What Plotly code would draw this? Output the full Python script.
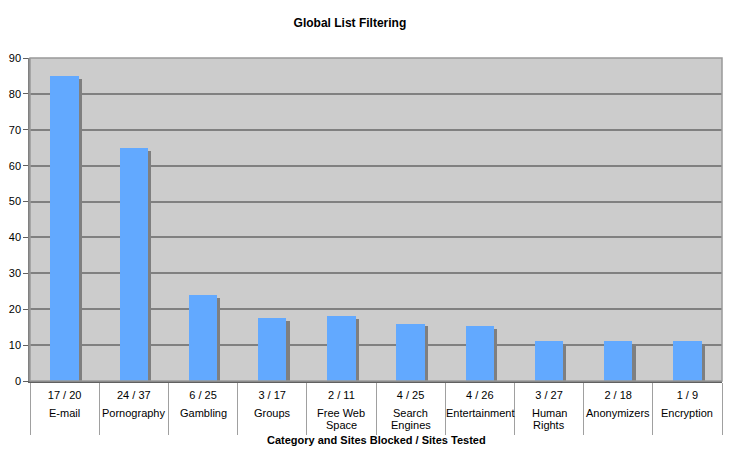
import plotly.graph_objects as go

names = ["E-mail", "Pornography", "Gambling", "Groups", "Free Web<br>Space",
         "Search<br>Engines", "Entertainment", "Human<br>Rights", "Anonymizers", "Encryption"]
fractions = ["17 / 20", "24 / 37", "6 / 25", "3 / 17", "2 / 11",
             "4 / 25", "4 / 26", "3 / 27", "2 / 18", "1 / 9"]
values = [85, 64.9, 24, 17.6, 18.2, 16, 15.4, 11.1, 11.1, 11.1]
y_ticks = [0, 10, 20, 30, 40, 50, 60, 70, 80, 90]

FONT = "Liberation Sans, Arial, sans-serif"

fig = go.Figure()
# shadow
fig.add_trace(go.Bar(x=names, y=values, base=[-0.8] * len(values),
                     width=0.41, offset=-0.205 + 0.045,
                     marker=dict(color="#7f7f7f", line=dict(width=0)),
                     hoverinfo="skip", showlegend=False))
fig.add_trace(go.Bar(x=names, y=values, width=0.41, offset=-0.205,
                     marker=dict(color="#62A9FF", line=dict(width=0)),
                     showlegend=False))

annotations = []
for n in names:
    for i, line in enumerate(n.split("<br>")):
        annotations.append(dict(x=n, y=-0.099, xref="x", yref="paper", text=line,
                                showarrow=False, xanchor="center", yanchor="middle",
                                yshift=-12 * i, font=dict(family=FONT, size=11)))
annotations.append(dict(x=0.5, y=-0.183, xref="paper", yref="paper",
                        text="<b>Category and Sites Blocked / Sites Tested</b>",
                        showarrow=False, xanchor="center", yanchor="middle",
                        font=dict(family=FONT, size=11)))

fig.update_layout(
    width=729, height=461,
    margin=dict(l=30, r=7, t=58, b=80),
    barmode="overlay",
    paper_bgcolor="white",
    plot_bgcolor="#CCCCCC",
    font=dict(family=FONT, size=11, color="black"),
    title=dict(text="<b>Global List Filtering</b>", x=0.48, xanchor="center",
               y=0.951, yanchor="middle", font=dict(family=FONT, size=12)),
    xaxis=dict(
        type="category", automargin=False,
        tickvals=names, ticktext=fractions, tickangle=0,
        showgrid=False,
        ticks="outside", tickson="boundaries", ticklen=52, tickcolor="#a0a0a0", tickwidth=1,
        showline=True, linecolor="#606060", linewidth=1.5,
        tickfont=dict(family=FONT, size=11),
        ticklabelstandoff=3,
    ),
    yaxis=dict(
        range=[0, 90], tickvals=y_ticks, automargin=False,
        showgrid=True, gridcolor="#808080", gridwidth=1.5,
        ticks="outside", ticklen=5, tickcolor="#606060",
        showline=True, linecolor="#808080", linewidth=1.5,
        zeroline=False,
        tickfont=dict(family=FONT, size=11),
    ),
    bargap=0,
    annotations=annotations,
)
# plot-area border (top/right)
fig.add_shape(type="rect", xref="paper", yref="paper", x0=0, x1=1, y0=0, y1=1,
              line=dict(color="#999999", width=1.5), layer="above")

fig.write_html("out.html")
